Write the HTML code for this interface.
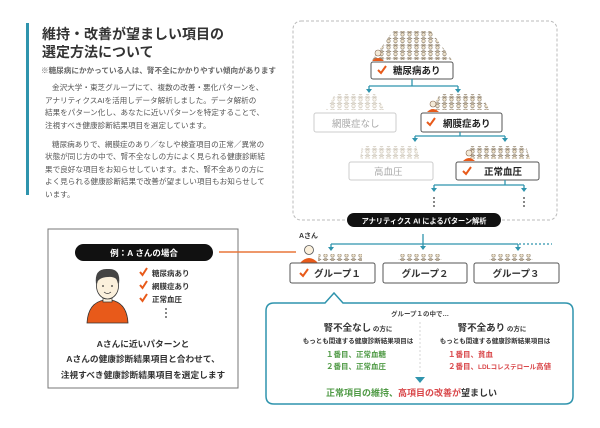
<!DOCTYPE html>
<html><head><meta charset="utf-8"><style>
html,body{margin:0;padding:0;background:#fff;}
svg{display:block;}
text{font-family:"Liberation Sans","Noto Sans CJK JP",sans-serif;}
</style></head><body>
<svg width="600" height="428" viewBox="0 0 600 428" xmlns="http://www.w3.org/2000/svg">
<defs>
<pattern id="pp" x="0" y="0" width="7" height="6.5" patternUnits="userSpaceOnUse">
<circle cx="3.5" cy="2" r="1.7" fill="#efe3cc" stroke="#8f8270" stroke-width="0.6"/>
<path d="M1 6.3 Q3.5 3.6 6 6.3Z" fill="#efe3cc" stroke="#8f8270" stroke-width="0.6"/>
</pattern>
<pattern id="pl" x="0" y="0" width="7" height="6.5" patternUnits="userSpaceOnUse">
<circle cx="3.5" cy="2" r="1.7" fill="#f8f4ec" stroke="#cdc6ba" stroke-width="0.6"/>
<path d="M1 6.3 Q3.5 3.6 6 6.3Z" fill="#f8f4ec" stroke="#cdc6ba" stroke-width="0.6"/>
</pattern>
</defs>

<!-- left text -->
<rect x="26" y="23" width="3" height="172" fill="#2f94ad"/>
<text x="42" y="39" font-size="14" font-weight="bold" fill="#333">維持・改善が望ましい項目の</text>
<text x="42" y="57" font-size="14" font-weight="bold" fill="#333">選定方法について</text>
<text x="41" y="73" font-size="7.6" font-weight="bold" fill="#666">※糖尿病にかかっている人は、腎不全にかかりやすい傾向があります</text>
<g font-size="7.6" fill="#555">
<text x="52" y="90">金沢大学・東芝グループにて、複数の改善・悪化パターンを、</text>
<text x="45" y="103">アナリティクスAIを活用しデータ解析しました。データ解析の</text>
<text x="45" y="115">結果をパターン化し、あなたに近いパターンを特定することで、</text>
<text x="45" y="128">注視すべき健康診断結果項目を選定しています。</text>
<text x="52" y="147">糖尿病ありで、網膜症のあり／なしや検査項目の正常／異常の</text>
<text x="45" y="159">状態が同じ方の中で、腎不全なしの方によく見られる健康診断結</text>
<text x="45" y="172">果で良好な項目をお知らせしています。また、腎不全ありの方に</text>
<text x="45" y="184">よく見られる健康診断結果で改善が望ましい項目もお知らせして</text>
<text x="45" y="197">います。</text>
</g>

<rect x="293" y="21" width="264" height="199" rx="8" fill="none" stroke="#bbb" stroke-width="1" stroke-dasharray="3,2"/>

<polygon points="393,31 431,31 452,60 372,60" fill="url(#pp)"/>
<circle cx="378" cy="53" r="3" fill="#f3ead8" stroke="#8a6a50" stroke-width="0.6"/>
<path d="M372 61 Q378 55 384 61Z" fill="#e85a1a"/>
<rect x="371" y="62" width="82" height="17" rx="2" fill="#fff" stroke="#555" stroke-width="1"/>
<path d="M378 70 l3 3 l5 -7" fill="none" stroke="#e85a1a" stroke-width="2"/>
<text x="393" y="74" font-size="9.5" font-weight="bold" fill="#222">糖尿病あり</text>
<path d="M412 79V86M369 86H458M369 86V91M458 86V91" fill="none" stroke="#2f94ad" stroke-width="1.3"/>
<path d="M366 89L369 93L372 89Z M455 89L458 93L461 89Z" fill="#2f94ad"/>

<polygon points="335,94 375,94 385,110 326,110" fill="url(#pl)"/>
<rect x="314" y="113" width="82" height="19" rx="2" fill="#fff" stroke="#ccc" stroke-width="1"/>
<text x="332" y="127" font-size="9.5" fill="#aaa">網膜症なし</text>
<polygon points="440,94 480,94 490,110 431,110" fill="url(#pp)"/>
<circle cx="433" cy="104" r="3" fill="#f3ead8" stroke="#8a6a50" stroke-width="0.6"/>
<path d="M427 112 Q433 106 439 112Z" fill="#e85a1a"/>
<rect x="421" y="113" width="81" height="19" rx="2" fill="#fff" stroke="#555" stroke-width="1"/>
<path d="M427 122 l3 3 l5 -7" fill="none" stroke="#e85a1a" stroke-width="2"/>
<text x="443" y="127" font-size="9.5" font-weight="bold" fill="#222">網膜症あり</text>
<path d="M460 132V136M415 136H505M415 136V140M505 136V140" fill="none" stroke="#2f94ad" stroke-width="1.3"/>
<path d="M412 138L415 142L418 138Z M502 138L505 142L508 138Z" fill="#2f94ad"/>

<polygon points="362,146 416,146 420,159 360,159" fill="url(#pl)"/>
<rect x="349" y="162" width="84" height="18" rx="2" fill="#fff" stroke="#ccc" stroke-width="1"/>
<text x="374" y="175" font-size="9.5" fill="#aaa">高血圧</text>
<polygon points="470,146 526,146 530,159 468,159" fill="url(#pp)"/>
<circle cx="469" cy="153" r="3" fill="#f3ead8" stroke="#8a6a50" stroke-width="0.6"/>
<path d="M463 161 Q469 155 475 161Z" fill="#e85a1a"/>
<rect x="456" y="162" width="83" height="18" rx="2" fill="#fff" stroke="#555" stroke-width="1"/>
<path d="M463 171 l3 3 l5 -7" fill="none" stroke="#e85a1a" stroke-width="2"/>
<text x="484" y="175" font-size="9.5" font-weight="bold" fill="#222">正常血圧</text>
<path d="M505 180V185M434 185H524M434 185V189M524 185V189" fill="none" stroke="#2f94ad" stroke-width="1.3"/>
<path d="M431 188L434 192L437 188Z M521 188L524 192L527 188Z" fill="#2f94ad"/>
<g fill="#333"><circle cx="434" cy="198" r="0.9"/><circle cx="434" cy="202" r="0.9"/><circle cx="434" cy="206" r="0.9"/>
<circle cx="524" cy="198" r="0.9"/><circle cx="524" cy="202" r="0.9"/><circle cx="524" cy="206" r="0.9"/></g>

<rect x="347" y="213" width="154" height="14" rx="7" fill="#111"/>
<text x="424" y="223.5" font-size="7.2" font-weight="bold" fill="#fff" text-anchor="middle">アナリティクス AI によるパターン解析</text>

<path d="M423 234V246M331 244H518M331 244V248M518 244V248" fill="none" stroke="#2f94ad" stroke-width="1.3"/>
<path d="M519 244H552" stroke="#2f94ad" stroke-width="1.3" stroke-dasharray="2,2"/>
<path d="M420 246L423 250L426 246Z M328 247L331 251L334 247Z M515 247L518 251L521 247Z" fill="#2f94ad"/>
<rect x="318" y="254" width="44" height="7" fill="url(#pp)"/>
<rect x="398" y="254" width="44" height="7" fill="url(#pp)"/>
<rect x="489" y="254" width="44" height="7" fill="url(#pp)"/>
<text x="299" y="238" font-size="7" font-weight="bold" fill="#333">Aさん</text>
<circle cx="309" cy="250" r="4.5" fill="#fbf0dc" stroke="#555" stroke-width="0.8"/>
<path d="M300 263 Q309 253 318 263Z" fill="#e85a1a"/>
<rect x="290" y="263" width="85" height="20" rx="2" fill="#fff" stroke="#555" stroke-width="1"/>
<path d="M300 273 l3 3 l5 -7" fill="none" stroke="#e85a1a" stroke-width="2"/>
<text x="314" y="277" font-size="9.5" font-weight="bold" fill="#333">グループ１</text>
<rect x="383" y="263" width="84" height="20" rx="2" fill="#fff" stroke="#555" stroke-width="1"/>
<text x="425" y="277" font-size="9.5" font-weight="bold" fill="#333" text-anchor="middle">グループ２</text>
<rect x="474" y="263" width="85" height="20" rx="2" fill="#fff" stroke="#555" stroke-width="1"/>
<text x="516" y="277" font-size="9.5" font-weight="bold" fill="#333" text-anchor="middle">グループ３</text>

<path d="M274 303 H325 L334 293 L343 303 H565 Q573 303 573 311 V396 Q573 404 565 404 H274 Q266 404 266 396 V311 Q266 303 274 303Z" fill="#fff" stroke="#2f94ad" stroke-width="1.5"/>
<text x="420" y="316" font-size="6.5" font-weight="bold" fill="#444" text-anchor="middle">グループ１の中で…</text>
<text x="358" y="331" font-size="9.5" font-weight="bold" fill="#333" text-anchor="middle">腎不全なし<tspan font-size="6.5"> の方に</tspan></text>
<text x="358" y="343" font-size="6.5" font-weight="bold" fill="#333" text-anchor="middle">もっとも関連する健康診断結果項目は</text>
<text x="356" y="357" font-size="7.5" font-weight="bold" fill="#4f9a45" text-anchor="middle">１番目、正常血糖</text>
<text x="356" y="369" font-size="7.5" font-weight="bold" fill="#4f9a45" text-anchor="middle">２番目、正常血圧</text>
<line x1="420" y1="322" x2="420" y2="372" stroke="#ccc" stroke-width="0.8" stroke-dasharray="2,2"/>
<text x="492" y="331" font-size="9.5" font-weight="bold" fill="#333" text-anchor="middle">腎不全あり<tspan font-size="6.5"> の方に</tspan></text>
<text x="495" y="343" font-size="6.5" font-weight="bold" fill="#333" text-anchor="middle">もっとも関連する健康診断結果項目は</text>
<text x="448" y="357" font-size="7.5" font-weight="bold" fill="#d9474a">１番目、貧血</text>
<text x="448" y="369" font-size="7.5" font-weight="bold" fill="#d9474a">２番目、<tspan font-size="6.5">LDLコレステロール</tspan>高値</text>
<path d="M415 377H425L420 383Z" fill="#2f94ad"/>
<text x="326" y="396" font-size="9" font-weight="bold" fill="#4f9a45">正常項目の維持、<tspan fill="#d9474a">高項目の改善が</tspan><tspan fill="#333">望ましい</tspan></text>

<rect x="48" y="229" width="190" height="159" fill="#fff" stroke="#777" stroke-width="1"/>
<line x1="219" y1="252" x2="296" y2="252" stroke="#e8763a" stroke-width="1.5"/>
<rect x="75" y="244" width="138" height="17" rx="8.5" fill="#111"/>
<text x="144" y="256" font-size="8.5" font-weight="bold" fill="#fff" text-anchor="middle">例：A さんの場合</text>
<path d="M87 323 Q88 303 104 300 H111 Q127 303 128 323Z" fill="#e85a1a" stroke="#333" stroke-width="0.8"/>
<rect x="103" y="293" width="9" height="9" fill="#fbf0dc" stroke="#333" stroke-width="0.7"/>
<ellipse cx="107.5" cy="286" rx="11" ry="13" fill="#fbf0dc" stroke="#333" stroke-width="0.8"/>
<path d="M96 284 Q94 268 108 269 Q121 268 119 284 Q117 276 108 277 Q99 277 96 284Z" fill="#444"/>
<circle cx="103" cy="286" r="0.9" fill="#333"/><circle cx="112" cy="286" r="0.9" fill="#333"/>
<path d="M104 292 Q107.5 295 111 292" fill="none" stroke="#333" stroke-width="0.7"/>
<g fill="none" stroke="#e85a1a" stroke-width="2">
<path d="M140 272 l2.5 3 l4.5 -7"/><path d="M140 285 l2.5 3 l4.5 -7"/><path d="M140 298 l2.5 3 l4.5 -7"/></g>
<g font-size="7.5" font-weight="bold" fill="#333">
<text x="152" y="276">糖尿病あり</text><text x="152" y="289">網膜症あり</text><text x="152" y="302">正常血圧</text></g>
<g fill="#333"><circle cx="166" cy="309" r="0.9"/><circle cx="166" cy="313" r="0.9"/><circle cx="166" cy="317" r="0.9"/></g>
<g font-size="8.7" font-weight="bold" fill="#333" text-anchor="middle">
<text x="143" y="347">Aさんに近いパターンと</text>
<text x="143" y="362">Aさんの健康診断結果項目と合わせて、</text>
<text x="143" y="378">注視すべき健康診断結果項目を選定します</text></g>
</svg>
</body></html>
